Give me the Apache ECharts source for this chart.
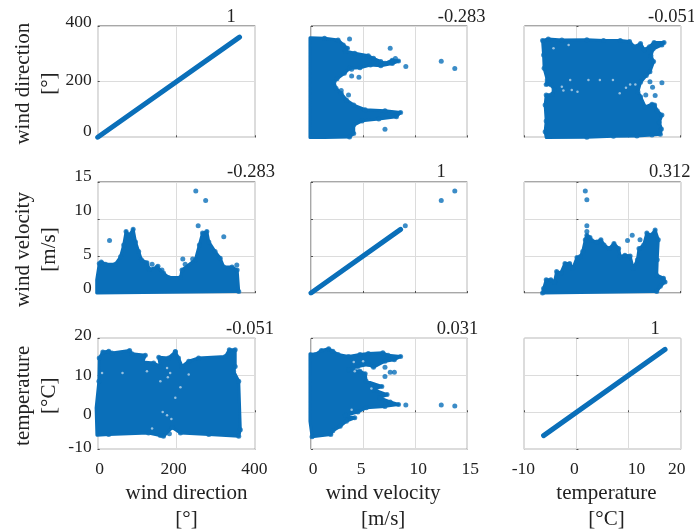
<!DOCTYPE html>
<html><head><meta charset="utf-8">
<style>html,body{margin:0;padding:0;background:#fff}#c{width:694px;height:531px;filter:blur(0.35px)}</style>
<script src="https://cdn.jsdelivr.net/npm/echarts@6/dist/echarts.min.js"></script>
</head><body><div id="c"></div>
<script>
// ---- labels ----
const varNames = ['wind direction\n[°]', 'wind velocity\n[m/s]', 'temperature\n[°C]'];
const corrLabels = [['1','-0.283','-0.051'],['-0.283','1','0.312'],['-0.051','0.031','1']];
// ---- axis scales (min, max, interval) ----
const dirAxis = [0, 400, 200];
const velAxis = [0, 15, 5];
const tempAxis = [-10, 20, 10];
// ---- diagonals: dense runs of points ----
const dirDiag = [[0,0],[360,360]];
const velDiag = [[0,0],[8.6,8.6]];
const velDiagOutliers = [[9.05,9.1],[12.5,12.5],[13.8,13.8]];
const tempDiag = [[-6.3,-6.3],[17,17]];
// ---- dense clouds: outline (x, y), isolated points, and small gaps inside ----
const velDirCloud = [[-0.1,358],[1.3,356],[2.6,350],[3.1,332],[3.5,320],[3.3,310],[4.2,302],[5.5,293],[6,284],[6.7,272],[7.1,266],[7.8,277],[8.4,274],[7.8,265],[6.7,257],[5.7,260],[4.7,250],[3.7,248],[3.2,230],[2.5,210],[2.2,198],[2.4,176],[2.9,158],[3.4,134],[4.1,116],[5.2,99],[7.1,95],[8.6,89],[8.2,74],[6.5,66],[4.9,59],[4.1,44],[4.1,14],[3.7,1],[1.3,-1],[-0.1,-1]];
const velDirOutliers = [[3.7,353],[7.6,320],[9.1,254],[12.5,273],[13.8,247],[3.9,220],[4.6,216],[3.9,245],[3.6,152],[2.9,168],[7.1,29],[8.1,283]];
const tempDirCloud = [[-6.5,348],[-5.4,353],[-2.8,350],[2,351],[5.2,348],[8.4,348],[10.2,344],[11.1,325],[12.3,337],[13,315],[14,325],[14.9,341],[16.8,341],[16.4,332],[14.7,317],[14.3,293],[14.8,272],[14.1,236],[13.4,222],[12.3,198],[11.8,164],[12.3,146],[13.2,109],[14.5,119],[15,116],[15.5,95],[16.4,80],[15.9,54],[16.3,30],[16.1,11],[14.5,8],[11.6,5],[7.1,4],[2,0],[-5.8,-1],[-6,20],[-5.8,59],[-6,116],[-5.8,152],[-4.7,154],[-4.3,171],[-4.8,188],[-5.8,190],[-5.6,206],[-6.2,248],[-6.3,296]];
const tempDirOutliers = [[16.4,196],[13.3,152],[14.1,200],[14.6,180],[15.1,150]];
const tempDirGaps = [[-2.8,182],[-1.2,206],[2.3,206],[4.5,206],[7,206],[9.5,178],[10.3,190],[8.3,158],[11.3,190],[-2.5,168],[-0.9,170],[0.2,164],[-4.4,320],[-1.5,332]];
const dirVelCloud = [[-2.5,0],[-2.5,1.8],[4,4],[9,4.2],[20,3.9],[45,3.9],[58,4.9],[66,6.5],[72,8.3],[80,7.8],[90,8.6],[96,6.9],[104,5.6],[111,4.5],[125,4.1],[131,3.2],[151,3.5],[167,2.7],[180,2.1],[210,2.1],[214,3.1],[248,4.5],[258,6.5],[266,8.1],[277,8.3],[282,6.9],[298,5.6],[311,4.7],[320,3.5],[341,3.5],[354,3.1],[358,0.2]];
const dirVelOutliers = [[30,7.1],[249,13.8],[274,12.5],[255,9.1],[320,7.6],[353,3.8],[216,4.6],[222,3.9],[153,3.6],[241,4.6],[138,3.9],[163,3.1]];
const tempVelCloud = [[-6.5,0],[-6.3,0.6],[-5.8,1.8],[-4.9,1.8],[-4.2,1.5],[-3.8,2.9],[-3,2.7],[-2.2,4],[-1.3,4],[-0.7,3.3],[0.1,4.8],[0.7,4.9],[1.2,5.6],[1.7,7.2],[2,7.8],[2.6,7.5],[2.9,7.1],[3.9,6.9],[4.7,7.2],[5.3,6.5],[6.3,6],[7.2,6.7],[8.1,6],[8.4,4.9],[9.3,5.1],[10.3,5],[10.9,3.3],[11.7,4.5],[12,6],[12.9,6.5],[13.5,8.1],[14.3,7.8],[15.1,8.5],[15.7,7.2],[15.5,4.5],[15.4,2.4],[16.7,2],[17,1.5],[16.1,0.9],[15.4,0.2]];
const tempVelOutliers = [[1.7,13.8],[2,12.6],[2,9.1],[2,8.3],[9.8,7.1],[10.7,7.8],[12.2,7.2]];
const dirTempCloud = [[4,14.7],[13,16.3],[28,16.5],[36,16],[81,16.7],[87,15.8],[121,15.4],[114,13.6],[142,13.3],[159,12.4],[155,14.9],[180,14.7],[197,16.3],[205,14.7],[214,12.4],[231,13.8],[256,14.7],[324,15.1],[334,16.9],[349,16.9],[349,12.4],[345,11.1],[358,8.4],[362,-4.7],[358,-6.5],[282,-6],[210,-5.6],[189,-4.1],[167,-6.5],[129,-5.6],[28,-6],[-2,-6.2],[-4,1.2],[3,8.4]];
const dirTempOutliers = [[197,16.4],[159,-6.3],[182,-5.8]];
const dirTempGaps = [[63,10.6],[125,11.1],[159,8.4],[184,10.6],[176,12],[178,9.5],[210,6.8],[197,3.9],[165,0.1],[187,-1.8],[176,-0.8],[231,10.2],[11,10.6],[138,-4.4]];
const velTempCloud = [[-0.1,15.8],[0.4,15.6],[1,16.7],[1.7,17.2],[2.1,16.5],[2.6,15.6],[3.6,15.1],[4.7,15.6],[5.5,15.9],[6.9,16.1],[7.4,15.4],[8.6,15.1],[8,14.2],[7.1,13.8],[6,12.2],[5.5,12.9],[4.5,12.4],[3.6,11.5],[4.7,11.1],[5.2,10.4],[5.3,8.4],[6.8,7],[6,6.1],[7.3,4.8],[6.6,3.9],[7.6,2.8],[8.4,2.1],[7.1,1.6],[5.3,1.2],[4.5,0.1],[3.3,-0.8],[4.2,-1.5],[3.4,-2.4],[2.8,-3.8],[2.1,-5],[1.9,-6],[0.1,-6.6],[-0.1,-2.4],[-0.1,6.6]];
const velTempOutliers = [[9.1,2],[12.5,2],[13.8,1.7],[7.1,9.7],[7.6,10.8],[8,10.8],[7.1,12.2]];
const velTempGaps = [[4.1,13.6],[5,13.8],[4.2,11.1],[3.9,0.7],[5.8,6.4]];

// ---- layout / style ----
const BLUE = '#0a6fb9', FONT = '"Liberation Serif","Times New Roman",serif';
const colX = [[97.7,157.6],[311,156.3],[524.3,156.4]];
const rowY = [[26,111.3],[182,111],[338.3,111]];
const axes = [dirAxis, velAxis, tempAxis];
const panels = [
  [{line:dirDiag}, {cloud:velDirCloud,pts:velDirOutliers}, {cloud:tempDirCloud,pts:tempDirOutliers,gaps:tempDirGaps}],
  [{cloud:dirVelCloud,pts:dirVelOutliers}, {line:velDiag,pts:velDiagOutliers}, {cloud:tempVelCloud,pts:tempVelOutliers}],
  [{cloud:dirTempCloud,pts:dirTempOutliers,gaps:dirTempGaps}, {cloud:velTempCloud,pts:velTempOutliers,gaps:velTempGaps}, {line:tempDiag}]
];
const titleXY = [[[231,17],[461.7,17],[672,17]],[[251,172],[441,172],[669.7,172]],[[250,329],[457.5,329],[655,329]]];
// per-label nudges of the pasted tick labels (px, +up / +right)
const yLift = [{400:4,200:1,0:6},{15:6,10:9,5:2,0:5},{20:3,10:0,0:-2,'-10':2}];
const xShift = [{0:2,200:-3,400:-1},{0:2,5:-2,10:3,15:3},{'-10':-1,0:-2,10:8,20:-4}];
const yNameShift = [2,12,2], xNameShift = [10,-6,4];
const richKey = (up,right)=>'n'+(up+50)+'_'+(right+50);
const rich = {};
function addRich(up,right){
  rich[richKey(up,right)] = {fontFamily:FONT,fontSize:17.5,color:'#222',
    padding:[Math.max(-up*2,0),Math.max(-right*2,0),Math.max(up*2,0),Math.max(right*2,0)]};
}
addRich(0,0);
yLift.forEach(m=>Object.values(m).forEach(u=>addRich(u,0)));
xShift.forEach(m=>Object.values(m).forEach(s=>addRich(0,s)));
const grid=[],xAxis=[],yAxis=[],series=[],title=[];
panels.forEach((row,r)=>row.forEach((p,c)=>{
  const i = grid.length;
  grid.push({left:colX[c][0],width:colX[c][1],top:rowY[r][0],height:rowY[r][1],show:true,borderColor:'#505050',borderWidth:1,containLabel:false,outerBoundsMode:'none'});
  const ax=axes[c], ay=axes[r];
  xAxis.push({type:'value',gridIndex:i,min:ax[0],max:ax[1],interval:ax[2],
    splitLine:{show:true,lineStyle:{color:'#dcdcdc',width:1}},
    axisLine:{show:false},axisTick:{show:true,inside:true,length:2,lineStyle:{color:'#505050'}},
    axisLabel:{show:r===2,margin:11,hideOverlap:false,showMinLabel:true,showMaxLabel:true,
      fontFamily:FONT,fontSize:17.5,color:'#222',
      formatter:v=>'{'+richKey(0,xShift[c][v]||0)+'|'+v+'}',rich},
    name:r===2?varNames[c]:'',nameLocation:'middle',nameGap:31,nameMoveOverlap:false,
    nameTextStyle:{fontFamily:FONT,fontSize:21,lineHeight:26,color:'#222',
      padding:[0,Math.max(-xNameShift[c]*2,0),0,Math.max(xNameShift[c]*2,0)]}});
  yAxis.push({type:'value',gridIndex:i,min:ay[0],max:ay[1],interval:ay[2],
    splitLine:{show:true,lineStyle:{color:'#dcdcdc',width:1}},
    axisLine:{show:false},axisTick:{show:true,inside:true,length:2,lineStyle:{color:'#505050'}},
    axisLabel:{show:c===0,margin:6,hideOverlap:false,showMinLabel:true,showMaxLabel:true,
      fontFamily:FONT,fontSize:17.5,color:'#222',
      formatter:v=>'{'+richKey(yLift[r][v]||0,0)+'|'+v+'}',rich},
    name:c===0?varNames[r]:'',nameLocation:'middle',nameGap:35,nameMoveOverlap:false,
    nameTextStyle:{fontFamily:FONT,fontSize:21,lineHeight:26,color:'#222',
      padding:[0,yNameShift[r]*2,0,0]}});
  title.push({text:corrLabels[r][c],left:titleXY[r][c][0],top:titleXY[r][c][1],textAlign:'center',textVerticalAlign:'middle',padding:0,
    textStyle:{fontFamily:FONT,fontSize:18.5,fontWeight:'normal',color:'#222'}});
  if(p.cloud){
    const outline=p.cloud;
    series.push({type:'custom',xAxisIndex:i,yAxisIndex:i,data:outline,silent:true,z:3,
      renderItem:(params,api)=>{
        if(params.dataIndex!==0) return null;
        return {type:'polygon',shape:{points:outline.map(q=>api.coord(q))},
          style:{fill:BLUE,stroke:BLUE,lineWidth:3,lineJoin:'round'}};
      }});
    series.push({type:'scatter',xAxisIndex:i,yAxisIndex:i,data:outline,symbolSize:5,itemStyle:{color:BLUE},z:3,silent:true});
  }
  if(p.line){
    series.push({type:'line',xAxisIndex:i,yAxisIndex:i,data:p.line,showSymbol:false,silent:true,z:3,
      lineStyle:{color:BLUE,width:5,cap:'round'}});
  }
  if(p.pts){
    series.push({type:'scatter',xAxisIndex:i,yAxisIndex:i,data:p.pts,symbolSize:5,itemStyle:{color:BLUE},z:3,silent:true});
  }
  if(p.gaps){
    series.push({type:'scatter',xAxisIndex:i,yAxisIndex:i,data:p.gaps,symbolSize:2.5,itemStyle:{color:'#bcd6ea'},z:4,silent:true});
  }
}));
const chart=echarts.init(document.getElementById('c'),null,{renderer:'canvas'});
chart.setOption({animation:false,backgroundColor:'#fff',grid,xAxis,yAxis,series,title,tooltip:{show:false}});
</script></body></html>
